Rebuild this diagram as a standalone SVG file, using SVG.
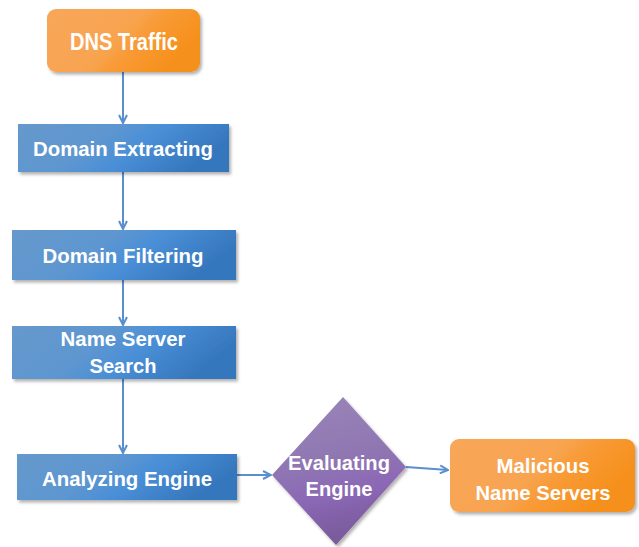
<svg xmlns="http://www.w3.org/2000/svg" width="639" height="547" viewBox="0 0 639 547">
  <defs>
    <linearGradient id="gBlue" x1="0" y1="0" x2="1" y2="0.3">
      <stop offset="0" stop-color="#6699cc"/>
      <stop offset="0.45" stop-color="#5d96d0"/>
      <stop offset="0.65" stop-color="#4a8fd7"/>
      <stop offset="1" stop-color="#3677bd"/>
    </linearGradient>
    <linearGradient id="gOrange" x1="0" y1="0" x2="1" y2="0.4">
      <stop offset="0" stop-color="#f8a65a"/>
      <stop offset="0.55" stop-color="#f8a450"/>
      <stop offset="0.7" stop-color="#f89a35"/>
      <stop offset="1" stop-color="#f6901c"/>
    </linearGradient>
    <linearGradient id="gPurple" x1="0" y1="0" x2="0.2" y2="1">
      <stop offset="0" stop-color="#9a86b8"/>
      <stop offset="0.5" stop-color="#8f76b2"/>
      <stop offset="0.72" stop-color="#8c68b6"/>
      <stop offset="1" stop-color="#7a5b9c"/>
    </linearGradient>
    <filter id="shadow" x="-10%" y="-10%" width="125%" height="130%">
      <feDropShadow dx="2" dy="2.5" stdDeviation="1.5" flood-color="#000" flood-opacity="0.3"/>
    </filter>
    <marker id="arrow" viewBox="0 0 10 10" refX="9" refY="5" markerWidth="10" markerHeight="10" markerUnits="userSpaceOnUse" orient="auto">
      <path d="M1,1 L9,5 L1,9" fill="none" stroke="#5a8fcf" stroke-width="2"/>
    </marker>
    <style>
      .blue { fill: url(#gBlue); filter: url(#shadow); }
      .orange { fill: url(#gOrange); filter: url(#shadow); }
      .purple { fill: url(#gPurple); filter: url(#shadow); }
      .label { font-family: "Liberation Sans", Arial, sans-serif; font-weight: bold; font-size: 20px; fill: #ffffff; text-anchor: middle; }
      .big { font-size: 23px; }
      .mid { font-size: 21px; }
      .conn { fill: none; stroke: #5a8fcf; stroke-width: 2; marker-end: url(#arrow); }
    </style>
  </defs>
  <rect width="639" height="547" fill="#ffffff"/>

  <!-- connectors -->
  <g id="connectors">
    <path class="conn" d="M123,72 L123,123"/>
    <path class="conn" d="M123,172 L123,229"/>
    <path class="conn" d="M123,280 L123,325"/>
    <path class="conn" d="M123,379 L123,453"/>
    <path class="conn" d="M237,475 L271,475"/>
    <path class="conn" d="M406,467 L448,470"/>
  </g>

  <g id="dns-traffic">
    <rect class="orange" x="47" y="9" width="153" height="63" rx="9"/>
    <text class="label big" x="124" y="50" textLength="108" lengthAdjust="spacingAndGlyphs">DNS Traffic</text>
  </g>

  <g id="domain-extracting">
    <rect class="blue" x="18" y="124" width="211" height="48"/>
    <text class="label" x="123" y="156" textLength="180" lengthAdjust="spacingAndGlyphs">Domain Extracting</text>
  </g>

  <g id="domain-filtering">
    <rect class="blue" x="12" y="230" width="224" height="50"/>
    <text class="label" x="123" y="263" textLength="161" lengthAdjust="spacingAndGlyphs">Domain Filtering</text>
  </g>

  <g id="name-server-search">
    <rect class="blue" x="12" y="326" width="224" height="53"/>
    <text class="label" x="123" y="346" textLength="125" lengthAdjust="spacingAndGlyphs">Name Server</text>
    <text class="label" x="123" y="373" textLength="67" lengthAdjust="spacingAndGlyphs">Search</text>
  </g>

  <g id="analyzing-engine">
    <rect class="blue" x="17" y="454" width="220" height="46"/>
    <text class="label mid" x="127" y="486" textLength="170" lengthAdjust="spacingAndGlyphs">Analyzing Engine</text>
  </g>

  <g id="evaluating-engine">
    <path class="purple" d="M343,397 L406,467 L336,545 L272,475 Z"/>
    <text class="label mid" x="339" y="470" textLength="102" lengthAdjust="spacingAndGlyphs">Evaluating</text>
    <text class="label mid" x="339" y="496" textLength="67" lengthAdjust="spacingAndGlyphs">Engine</text>
  </g>

  <g id="malicious-name-servers">
    <rect class="orange" x="450" y="439" width="185" height="73" rx="9"/>
    <text class="label mid" x="543" y="473" textLength="93" lengthAdjust="spacingAndGlyphs">Malicious</text>
    <text class="label mid" x="543" y="500" textLength="135" lengthAdjust="spacingAndGlyphs">Name Servers</text>
  </g>
</svg>
